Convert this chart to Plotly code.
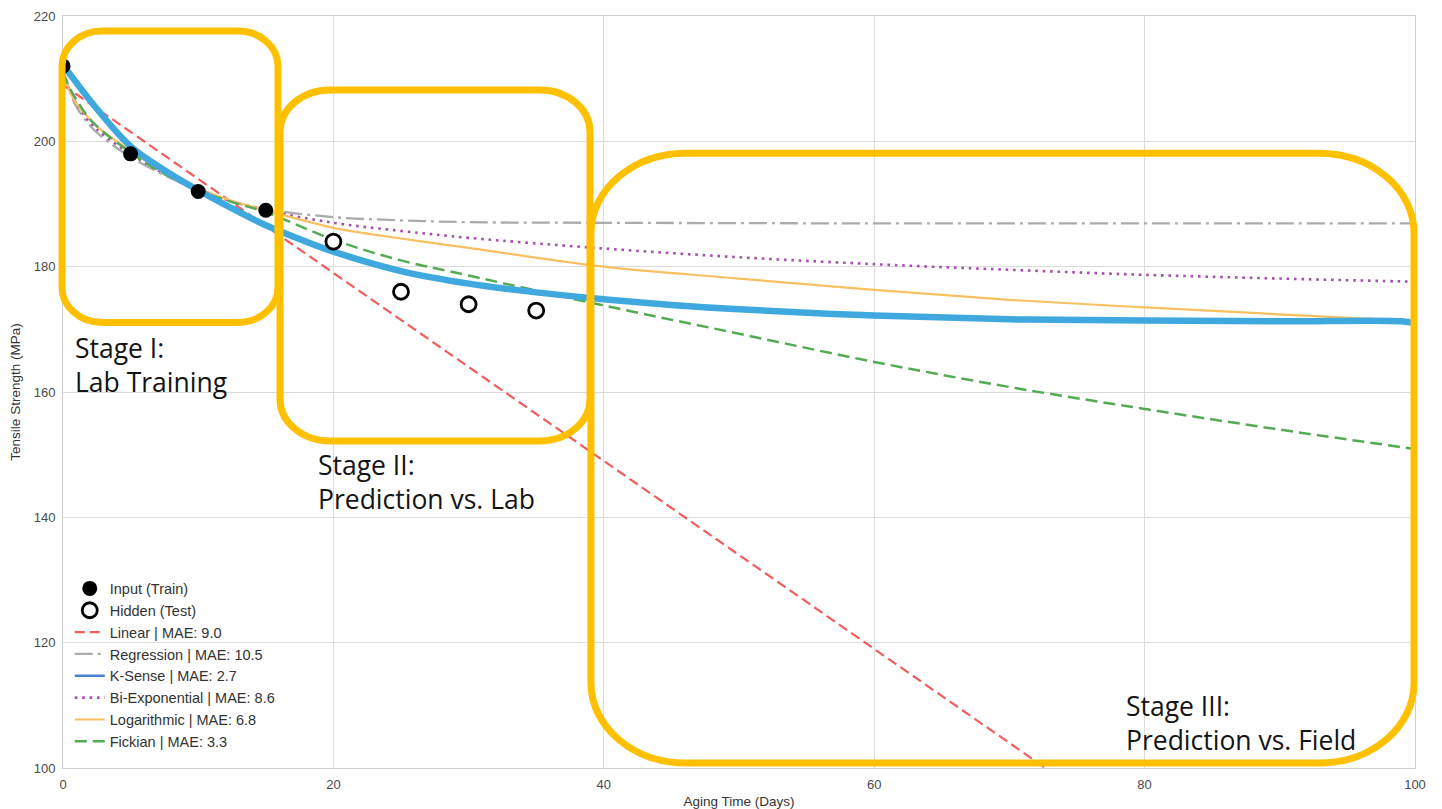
import plotly.graph_objects as go

# ---------------- data ----------------
train_days = [0, 5, 10, 15]
train_strength = [212, 198, 192, 189]

test_days = [20, 25, 30, 35]
test_strength = [184, 176, 174, 173]

linear_days = [0, 100]
linear_vals = [209, 59]

curve_days = [0, 0.5, 1, 2, 3, 5, 7.5, 10, 12.5, 15, 20, 25, 30, 40, 50, 60, 70, 80, 90, 100]
regression_vals = [211.5, 208.0, 205.5, 202.5, 200.5, 197.5, 194.6, 192.2, 190.4, 189.2,
                   187.9, 187.4, 187.1, 187.0, 186.95, 186.9, 186.9, 186.9, 186.9, 186.9]
biexp_vals = [211.0, 208.2, 206.0, 203.0, 201.0, 198.0, 194.8, 192.3, 190.4, 189.0,
              187.0, 185.7, 184.6, 182.9, 181.5, 180.4, 179.5, 178.7, 178.1, 177.6]
log_vals = [211.0, 208.0, 206.0, 203.5, 201.5, 198.5, 195.0, 192.5, 190.5, 189.0,
            186.2, 184.5, 183.0, 180.0, 178.1, 176.3, 174.7, 173.5, 172.4, 171.3]
fick_vals = [211.0, 208.5, 206.6, 203.5, 201.5, 198.2, 194.8, 192.2, 190.3, 188.7,
             184.3, 181.0, 178.6, 173.8, 169.3, 164.8, 160.8, 157.3, 154.0, 150.9]

ksense_days = [0, 2.5, 5, 7.5, 10, 12.5, 15, 17.5, 20, 25, 30, 35, 40, 45, 50, 60, 70, 80, 90, 99, 100]
ksense_vals = [212.2, 205.2, 199.2, 195.4, 192.2, 189.3, 186.6, 184.4, 182.4, 179.3, 177.3,
               175.9, 174.8, 173.9, 173.2, 172.2, 171.6, 171.4, 171.3, 171.3, 171.0]

series_names = {
    "train": "Input (Train)",
    "test": "Hidden (Test)",
    "linear": "Linear | MAE: 9.0",
    "regression": "Regression | MAE: 10.5",
    "ksense": "K-Sense | MAE: 2.7",
    "biexp": "Bi-Exponential | MAE: 8.6",
    "log": "Logarithmic | MAE: 6.8",
    "fick": "Fickian | MAE: 3.3",
}

x_ticks = [0, 20, 40, 60, 80, 100]
y_ticks = [100, 120, 140, 160, 180, 200, 220]
x_range = [0, 100]
y_range = [100, 220]

# stage boxes in data units: (x0, x1, y_bottom, y_top, corner radius px x, corner radius px y)
stage_boxes = [
    (-0.07, 15.9, 171.1, 217.6, 40, 35),
    (16.05, 38.98, 152.2, 208.2, 50, 42),
    (39.05, 99.93, 100.8, 198.1, 95, 80),
]
stage_labels = [
    ("Stage I:<br>Lab Training", 0.75, 164.3),
    ("Stage II:<br>Prediction vs. Lab", 18.7, 145.6),
    ("Stage III:<br>Prediction vs. Field", 78.45, 107.2),
]

# ---------------- figure ----------------
# the page body has an 8px margin, so the figure is made 8px smaller
BODY = 8
W, H = 1442 - BODY, 809 - BODY
ML, MR, MT, MB = 63 - BODY, 27, 16 - BODY, 41
PW, PH = W - ML - MR, H - MT - MB

fig = go.Figure()

fig.add_trace(go.Scatter(x=linear_days, y=linear_vals, mode="lines", name=series_names["linear"],
                         line=dict(color="#f25c5c", width=2.2, dash="10px,5px")))
fig.add_trace(go.Scatter(x=curve_days, y=regression_vals, mode="lines", name=series_names["regression"],
                         line=dict(color="#ababab", width=2.3, dash="18px,5px,3px,5px", shape="spline")))
# legend-only representative of K-Sense (thin), drawn underneath the thick line
fig.add_trace(go.Scatter(x=ksense_days, y=ksense_vals, mode="lines", name=series_names["ksense"],
                         line=dict(color="#4a80d4", width=2.5, shape="spline")))
fig.add_trace(go.Scatter(x=curve_days, y=biexp_vals, mode="lines", name=series_names["biexp"],
                         line=dict(color="#a64fb0", width=2.6, dash="2.6px,4.8px", shape="spline")))
fig.add_trace(go.Scatter(x=curve_days, y=log_vals, mode="lines", name=series_names["log"],
                         line=dict(color="#f8c060", width=2.2, shape="spline")))
fig.add_trace(go.Scatter(x=curve_days, y=fick_vals, mode="lines", name=series_names["fick"],
                         line=dict(color="#55ab55", width=2.5, dash="12px,6px", shape="spline")))
fig.add_trace(go.Scatter(x=ksense_days, y=ksense_vals, mode="lines", showlegend=False,
                         line=dict(color="#3fa8de", width=6.5, shape="spline"), hoverinfo="skip"))
fig.add_trace(go.Scatter(x=train_days, y=train_strength, mode="markers", name=series_names["train"],
                         marker=dict(color="black", size=15, line=dict(width=0))))
fig.add_trace(go.Scatter(x=test_days, y=test_strength, mode="markers", name=series_names["test"],
                         marker=dict(color="white", size=15, line=dict(color="black", width=2.8))))

# ---- stage boxes (paper coordinates so nothing is clipped) ----
def to_paper(xv, yv):
    return ((xv - x_range[0]) / (x_range[1] - x_range[0]),
            (yv - y_range[0]) / (y_range[1] - y_range[0]))

k = 0.5523
for (bx0, bx1, by0, by1, rpx, rpy) in stage_boxes:
    x0, y0 = to_paper(bx0, by0)
    x1, y1 = to_paper(bx1, by1)
    rx, ry = rpx / PW, rpy / PH
    p = (f"M {x0+rx},{y1} L {x1-rx},{y1} "
         f"C {x1-rx+k*rx},{y1} {x1},{y1-ry+k*ry} {x1},{y1-ry} "
         f"L {x1},{y0+ry} "
         f"C {x1},{y0+ry-k*ry} {x1-rx+k*rx},{y0} {x1-rx},{y0} "
         f"L {x0+rx},{y0} "
         f"C {x0+rx-k*rx},{y0} {x0},{y0+ry-k*ry} {x0},{y0+ry} "
         f"L {x0},{y1-ry} "
         f"C {x0},{y1-ry+k*ry} {x0+rx-k*rx},{y1} {x0+rx},{y1} Z")
    fig.add_shape(type="path", path=p, xref="paper", yref="paper", layer="above",
                  line=dict(color="#FFC000", width=7), fillcolor="rgba(0,0,0,0)")

for (txt, ax, ay) in stage_labels:
    fig.add_annotation(text=txt, x=ax, y=ay, xref="x", yref="y", showarrow=False,
                       xanchor="left", yanchor="middle", align="left",
                       font=dict(family="Open Sans", size=26.5, color="#141414"))

axis_common = dict(showgrid=True, gridcolor="#dcdcdc", gridwidth=1, zeroline=False,
                   showline=True, linecolor="#d0d0d0", linewidth=1, mirror=True,
                   ticks="", tickfont=dict(family="Liberation Sans, Arial", size=13, color="#4a4a4a"),
                   automargin=False)

fig.update_xaxes(range=x_range, tickvals=x_ticks, ticklabelstandoff=4,
                 title=dict(text="Aging Time (Days)", standoff=6,
                            font=dict(family="Liberation Sans, Arial", size=13.5, color="#333333")),
                 **axis_common)
fig.update_yaxes(range=y_range, tickvals=y_ticks, ticklabelstandoff=4,
                 title=dict(text="Tensile Strength (MPa)", standoff=9,
                            font=dict(family="Liberation Sans, Arial", size=13.5, color="#333333")),
                 **axis_common)

fig.update_layout(
    width=W, height=H,
    margin=dict(l=ML, r=MR, t=MT, b=MB),
    paper_bgcolor="white", plot_bgcolor="white",
    showlegend=True,
    legend=dict(x=0.005, y=0.26, xanchor="left", yanchor="top",
                bgcolor="rgba(255,255,255,0)", borderwidth=0,
                font=dict(family="Liberation Sans, Arial", size=14.5, color="#333333"),
                traceorder="normal", tracegroupgap=0),
)

# legend order: train, test, linear, regression, ksense, biexp, log, fick
order = [7, 8, 0, 1, 2, 3, 4, 5]
for rank, idx in enumerate(order):
    fig.data[idx].legendrank = rank + 1

fig.write_html("out.html")
